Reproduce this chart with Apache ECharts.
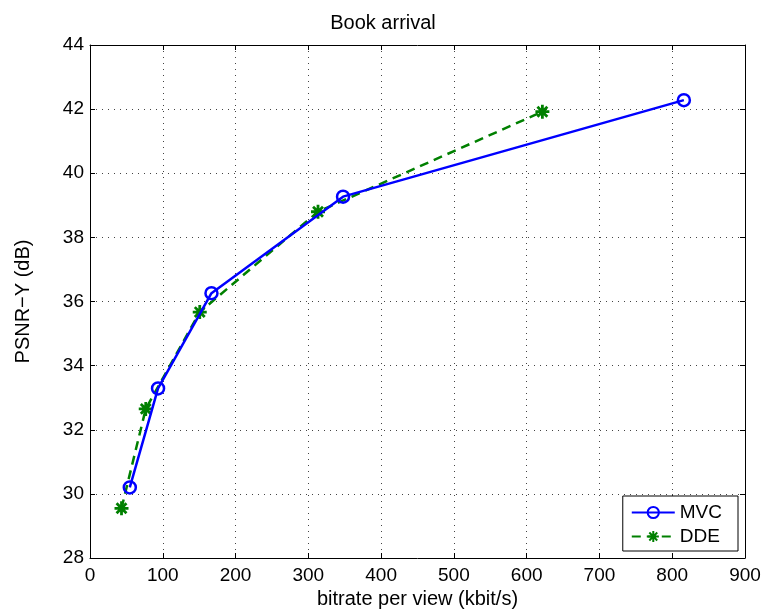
<!DOCTYPE html>
<html>
<head>
<meta charset="utf-8">
<script src="https://cdn.jsdelivr.net/npm/echarts@6/dist/echarts.min.js"></script>
<style>html,body{margin:0;padding:0;background:#fff}#c{width:766px;height:609px}</style>
</head>
<body>
<div id="c"></div>
<script>
const mvcX = [54.7, 93.5, 166.9, 347.7, 816];
const mvcY = [30.2, 33.29, 36.26, 39.27, 42.28];
const ddeX = [43.3, 76.6, 150.8, 313.3, 621.6];
const ddeY = [29.55, 32.65, 35.67, 38.8, 41.92];
const xTicks = [0, 100, 200, 300, 400, 500, 600, 700, 800, 900];
const yTicks = [28, 30, 32, 34, 36, 38, 40, 42, 44];

const FONT = 'Liberation Sans, Arial, sans-serif';
const chart = echarts.init(document.getElementById('c'), null, {renderer: 'canvas'});
const star = 'path://M0,-10 L0,10 M-10,0 L10,0 M-7.07,-7.07 L7.07,7.07 M-7.07,7.07 L7.07,-7.07';

const gridStyle = {show: true, lineStyle: {color: '#444', width: 1, type: [1, 5]}};
chart.setOption({
  animation: false,
  backgroundColor: '#fff',
  title: {text: 'Book arrival', left: 'center', top: 8,
    textStyle: {fontFamily: FONT, fontSize: 20, fontWeight: 'normal', color: '#000'}},
  grid: {left: 90, right: 21, top: 45, bottom: 51, containLabel: false, outerBoundsMode: 'none'},
  legend: {
    orient: 'vertical', right: 28, bottom: 58,
    backgroundColor: '#fff', borderColor: '#000', borderWidth: 1,
    padding: [7, 16, 5, 8], itemGap: 5, itemWidth: 43, itemHeight: 14,
    textStyle: {fontFamily: FONT, fontSize: 19, color: '#000'},
    data: ['MVC', 'DDE']
  },
  xAxis: [{
    type: 'value', min: 0, max: 900, interval: 100,
    name: 'bitrate per view (kbit/s)', nameLocation: 'middle', nameGap: 29,
    nameTextStyle: {fontFamily: FONT, fontSize: 20, color: '#000'},
    axisLine: {show: true, onZero: false, lineStyle: {color: '#000', width: 1}},
    axisTick: {show: true, inside: true, length: 5, lineStyle: {color: '#000'}},
    axisLabel: {fontFamily: FONT, fontSize: 19, color: '#000', margin: 8,
      formatter: v => xTicks.includes(v) ? String(v) : ''},
    splitLine: gridStyle
  }, {
    type: 'value', min: 0, max: 900, interval: 100, position: 'top',
    axisLine: {show: true, onZero: false, lineStyle: {color: '#000', width: 1}},
    axisTick: {show: true, inside: true, length: 5, lineStyle: {color: '#000'}},
    axisLabel: {show: false}, splitLine: {show: false}
  }],
  yAxis: [{
    type: 'value', min: 28, max: 44, interval: 2,
    name: 'PSNR\u2212Y (dB)', nameLocation: 'middle', nameGap: 57, nameRotate: 90,
    nameTextStyle: {fontFamily: FONT, fontSize: 20, color: '#000'},
    axisLine: {show: true, onZero: false, lineStyle: {color: '#000', width: 1}},
    axisTick: {show: true, inside: true, length: 5, lineStyle: {color: '#000'}},
    axisLabel: {fontFamily: FONT, fontSize: 19, color: '#000', margin: 6,
      formatter: v => yTicks.includes(v) ? String(v) : ''},
    splitLine: gridStyle
  }, {
    type: 'value', min: 28, max: 44, interval: 2, position: 'right',
    axisLine: {show: true, onZero: false, lineStyle: {color: '#000', width: 1}},
    axisTick: {show: true, inside: true, length: 5, lineStyle: {color: '#000'}},
    axisLabel: {show: false}, splitLine: {show: false}
  }],
  series: [{
    name: 'MVC', type: 'line',
    data: mvcX.map((x, i) => [x, mvcY[i]]),
    symbol: 'circle', symbolSize: 12, showAllSymbol: true,
    lineStyle: {color: '#0000ff', width: 2.5},
    itemStyle: {color: 'rgba(0,0,0,0)', borderColor: '#0000ff', borderWidth: 2.5},
    z: 3
  }, {
    name: 'DDE', type: 'line',
    data: ddeX.map((x, i) => [x, ddeY[i]]),
    symbol: star, symbolSize: 14, showAllSymbol: true,
    lineStyle: {color: '#008000', width: 2.5, type: [9, 6]},
    itemStyle: {color: '#008000', borderColor: '#008000', borderWidth: 2.8},
    z: 2
  }]
});
</script>
</body>
</html>
